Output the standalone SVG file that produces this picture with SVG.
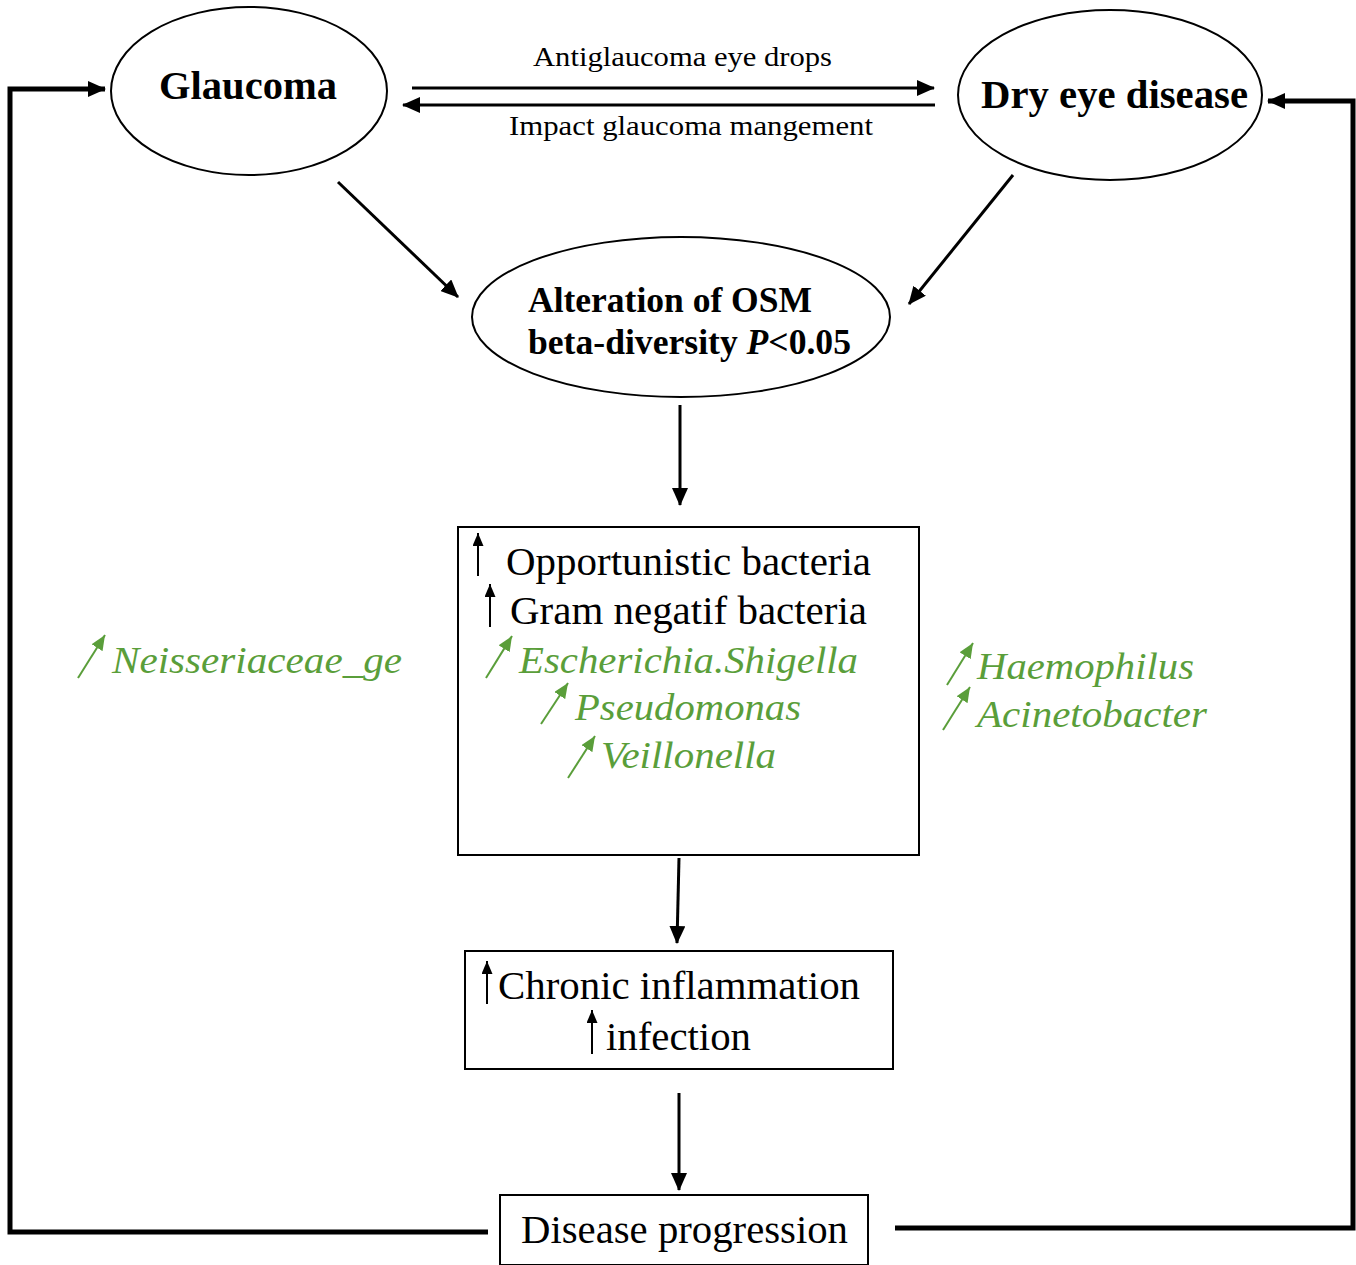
<svg xmlns="http://www.w3.org/2000/svg" width="1356" height="1265" viewBox="0 0 1356 1265">
<style>
.bg{fill:#fff}
.ell{fill:#fff;stroke:#000;stroke-width:2}
.box{fill:#fff;stroke:#000;stroke-width:2}
.t{fill:#000}
.b{font-weight:bold}
.g{fill:#5a9e3a;font-style:italic}
.ln{stroke:#000;stroke-width:3;fill:none}
.fb{stroke:#000;stroke-width:5;fill:none}
.sa{stroke:#000;stroke-width:2;fill:none}
.ga{stroke:#5a9e3a;stroke-width:2;fill:none}
</style>
<defs>
<marker id="ah" markerUnits="userSpaceOnUse" markerWidth="18" markerHeight="16" refX="17" refY="8" orient="auto"><path d="M0,0 L18,8 L0,16 z" fill="#000"/></marker>
<marker id="ahs" markerUnits="userSpaceOnUse" markerWidth="13" markerHeight="11" refX="13" refY="5.5" orient="auto"><path d="M0,0 L13,5.5 L0,11 z" fill="#000"/></marker>
<marker id="ahg" markerUnits="userSpaceOnUse" markerWidth="15" markerHeight="13" refX="15" refY="6.5" orient="auto"><path d="M0,0 L15,6.5 L0,13 z" fill="#5a9e3a"/></marker>
</defs>
<rect class="bg" x="0" y="0" width="1356" height="1265"/>

<g font-family="'Liberation Serif', Tinos, 'Times New Roman', Times, serif">
<g id="connectors">
<line class="ln" x1="412" y1="88" x2="934" y2="88" marker-end="url(#ah)"/>
<line class="ln" x1="935" y1="105" x2="403" y2="105" marker-end="url(#ah)"/>
<line class="ln" x1="338" y1="182" x2="458" y2="297" marker-end="url(#ah)"/>
<line class="ln" x1="1013" y1="175" x2="909" y2="304" marker-end="url(#ah)"/>
<line class="ln" x1="680" y1="405" x2="680" y2="505" marker-end="url(#ah)"/>
<line class="ln" x1="679" y1="858" x2="677" y2="943" marker-end="url(#ah)"/>
<line class="ln" x1="679" y1="1093" x2="679" y2="1190" marker-end="url(#ah)"/>
<polyline class="fb" points="488,1232 10,1232 10,89 105,89" marker-end="url(#ah)"/>
<polyline class="fb" points="895,1228 1353,1228 1353,101 1268,101" marker-end="url(#ah)"/>
<text class="t" x="533" y="66" font-size="28" textLength="299" lengthAdjust="spacingAndGlyphs">Antiglaucoma eye drops</text>
<text class="t" x="509" y="135" font-size="28" textLength="364" lengthAdjust="spacingAndGlyphs">Impact glaucoma mangement</text>
</g>

<g id="glaucoma">
<ellipse class="ell" cx="249" cy="91" rx="138" ry="84"/>
<text class="t b" x="159" y="99" font-size="40" textLength="178" lengthAdjust="spacingAndGlyphs">Glaucoma</text>
</g>

<g id="dry-eye">
<ellipse class="ell" cx="1110" cy="95" rx="152" ry="85"/>
<text class="t b" x="981" y="108" font-size="40" textLength="267" lengthAdjust="spacingAndGlyphs">Dry eye disease</text>
</g>

<g id="osm">
<ellipse class="ell" cx="681" cy="317" rx="209" ry="80"/>
<text class="t b" x="528" y="312" font-size="35" textLength="284" lengthAdjust="spacingAndGlyphs">Alteration of OSM</text>
<text class="t b" x="528" y="354" font-size="35" textLength="323" lengthAdjust="spacingAndGlyphs">beta-diversity <tspan font-style="italic">P</tspan>&lt;0.05</text>
</g>

<g id="bacteria">
<rect class="box" x="458" y="527" width="461" height="328"/>
<line class="sa" x1="478" y1="576" x2="478" y2="533" marker-end="url(#ahs)"/>
<text class="t" x="506" y="575" font-size="40" textLength="365" lengthAdjust="spacingAndGlyphs">Opportunistic bacteria</text>
<line class="sa" x1="490" y1="627" x2="490" y2="584" marker-end="url(#ahs)"/>
<text class="t" x="510" y="624" font-size="40" textLength="357" lengthAdjust="spacingAndGlyphs">Gram negatif bacteria</text>
<line class="ga" x1="486" y1="678" x2="512" y2="636" marker-end="url(#ahg)"/>
<text class="t g" x="519" y="673" font-size="38" textLength="339" lengthAdjust="spacingAndGlyphs">Escherichia.Shigella</text>
<line class="ga" x1="541" y1="724" x2="568" y2="683" marker-end="url(#ahg)"/>
<text class="t g" x="575" y="720" font-size="38" textLength="226" lengthAdjust="spacingAndGlyphs">Pseudomonas</text>
<line class="ga" x1="568" y1="778" x2="595" y2="736" marker-end="url(#ahg)"/>
<text class="t g" x="601" y="768" font-size="38" textLength="175" lengthAdjust="spacingAndGlyphs">Veillonella</text>
</g>

<g id="neisseriaceae">
<line class="ga" x1="78" y1="678" x2="105" y2="635" marker-end="url(#ahg)"/>
<text class="t g" x="112" y="673" font-size="38" textLength="290" lengthAdjust="spacingAndGlyphs">Neisseriaceae_ge</text>
</g>

<g id="haemophilus-acinetobacter">
<line class="ga" x1="947" y1="685" x2="973" y2="643" marker-end="url(#ahg)"/>
<text class="t g" x="977" y="679" font-size="38" textLength="217" lengthAdjust="spacingAndGlyphs">Haemophilus</text>
<line class="ga" x1="943" y1="730" x2="970" y2="687" marker-end="url(#ahg)"/>
<text class="t g" x="977" y="727" font-size="38" textLength="230" lengthAdjust="spacingAndGlyphs">Acinetobacter</text>
</g>

<g id="inflammation">
<rect class="box" x="465" y="951" width="428" height="118"/>
<line class="sa" x1="487" y1="1004" x2="487" y2="961" marker-end="url(#ahs)"/>
<text class="t" x="498" y="999" font-size="40" textLength="362" lengthAdjust="spacingAndGlyphs">Chronic inflammation</text>
<line class="sa" x1="592" y1="1054" x2="592" y2="1010" marker-end="url(#ahs)"/>
<text class="t" x="606" y="1050" font-size="40" textLength="145" lengthAdjust="spacingAndGlyphs">infection</text>
</g>

<g id="progression">
<rect class="box" x="500" y="1195" width="368" height="70"/>
<text class="t" x="521" y="1243" font-size="40" textLength="327" lengthAdjust="spacingAndGlyphs">Disease progression</text>
</g>
</g>
</svg>
